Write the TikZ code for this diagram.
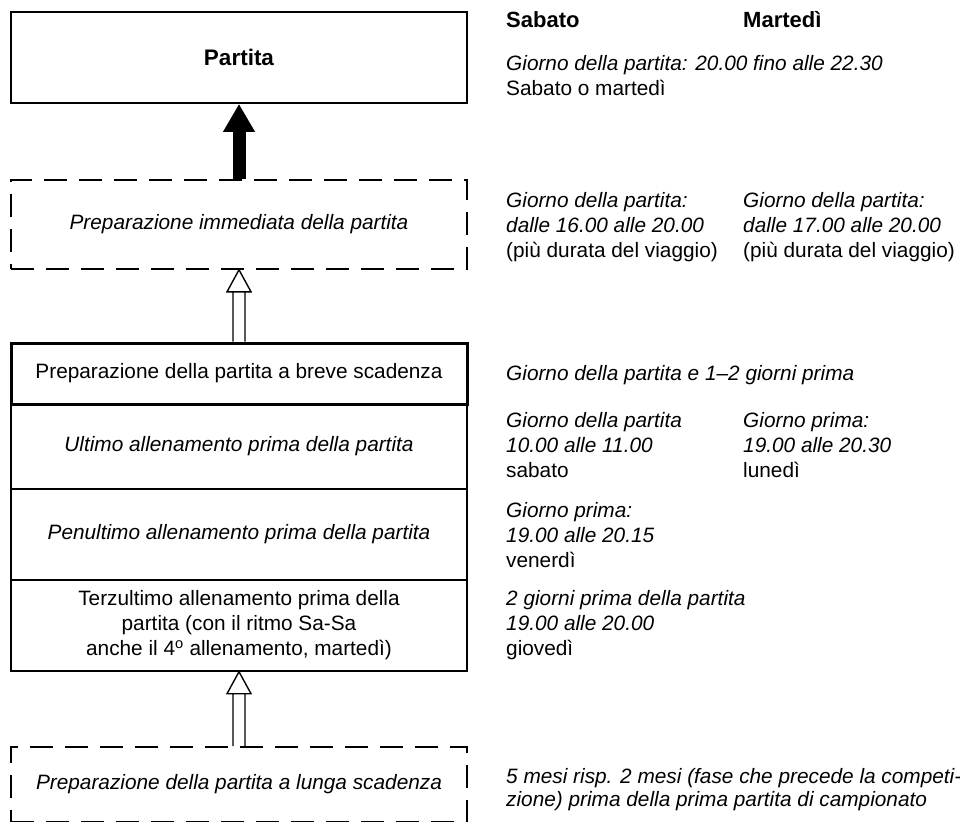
\documentclass[tikz,border=0pt]{standalone}
\usepackage{fontspec}
\setmainfont{Liberation Sans}
\usetikzlibrary{arrows.meta,calc}
\begin{document}
\begin{tikzpicture}[x=1pt,y=-1pt,
  every node/.style={font=\fontsize{20.8}{25}\selectfont},
  box/.style={draw, line width=1.4pt, minimum width=456pt, inner sep=0pt, align=center},
  dbox/.style={box, dash pattern=on 23pt off 12pt, line width=1.6pt},
  rtxt/.style={inner sep=0pt, align=left, anchor=north west},
  boldtxt/.style={rtxt, font=\fontsize{22}{26}\selectfont\bfseries},
  hollow/.style={draw, line width=1.4pt, line join=miter},
  solidarrow/.style={line width=13pt, -{Triangle[width=30pt,length=28pt]}}
]
\useasboundingbox (0,0) rectangle (960,821);
\fill[white] (0,0) rectangle (960,821);

% left column boxes
\node[box, line width=1.8pt, minimum height=91pt, font=\fontsize{22.5}{26}\selectfont\bfseries] (partita) at (239,57.5) {Partita};
\node[dbox, minimum height=89pt] (imm) at (239,224.5) {\itshape Preparazione immediata della partita};
\node[box, minimum height=85pt] (ult) at (239,446.5) {\itshape Ultimo allenamento prima della partita};
\node[box, minimum height=91pt] (pen) at (239,534.5) {\itshape Penultimo allenamento prima della partita};
\node[box, minimum height=91pt] (ter) at (239,625.5) {Terzultimo allenamento prima della\\partita (con il ritmo Sa-Sa\\anche il 4\textsuperscript{o} allenamento, martedì)};
\node[box, line width=3pt, minimum height=61pt] (breve) at (239,373.5) {Preparazione della partita a breve scadenza};
\node[dbox, minimum height=75pt] (lunga) at (239,784.5) {\itshape Preparazione della partita a lunga scadenza};

% connectors
\draw[solidarrow] (imm.north) -- (partita.south);
\draw[hollow] ($(breve.north)+(-6,0)$) -- ($(imm.south)+(-6,22)$)
  ($(breve.north)+(6,0)$) -- ($(imm.south)+(6,22)$)
  ($(imm.south)+(-12,22)$) -- (imm.south) -- ($(imm.south)+(12,22)$) -- cycle;
\draw[hollow] ($(lunga.north)+(-6,0)$) -- ($(ter.south)+(-6,22)$)
  ($(lunga.north)+(6,0)$) -- ($(ter.south)+(6,22)$)
  ($(ter.south)+(-12,22)$) -- (ter.south) -- ($(ter.south)+(12,22)$) -- cycle;

% right column
\node[boldtxt] (sab) at (506,11) {Sabato};
\node[boldtxt] (mar) at (743,11) {Martedì};
\node[rtxt] (tA) at (506,55.5) {\textit{Giorno della partita: 20.00 fino alle 22.30}\\Sabato o martedì};
\node[rtxt] (tB1) at (506,192.5) {\textit{Giorno della partita:}\\\textit{dalle 16.00 alle 20.00}\\(più durata del viaggio)};
\node[rtxt] (tB2) at (743,192.5) {\textit{Giorno della partita:}\\\textit{dalle 17.00 alle 20.00}\\(più durata del viaggio)};
\node[rtxt] (tC) at (506,365.5) {\textit{Giorno della partita e 1–2 giorni prima}};
\node[rtxt] (tD1) at (506,412.5) {\textit{Giorno della partita}\\\textit{10.00 alle 11.00}\\sabato};
\node[rtxt] (tD2) at (743,412.5) {\textit{Giorno prima:}\\\textit{19.00 alle 20.30}\\lunedì};
\node[rtxt] (tE) at (506,502.5) {\textit{Giorno prima:}\\\textit{19.00 alle 20.15}\\venerdì};
\node[rtxt] (tF) at (506,590.5) {\textit{2 giorni prima della partita}\\\textit{19.00 alle 20.00}\\giovedì};
\node[rtxt, font=\fontsize{20.8}{23}\selectfont] (tG) at (506,768) {\textit{5 mesi risp. 2 mesi (fase che precede la competi-}\\\textit{zione) prima della prima partita di campionato}};
\end{tikzpicture}
\end{document}
